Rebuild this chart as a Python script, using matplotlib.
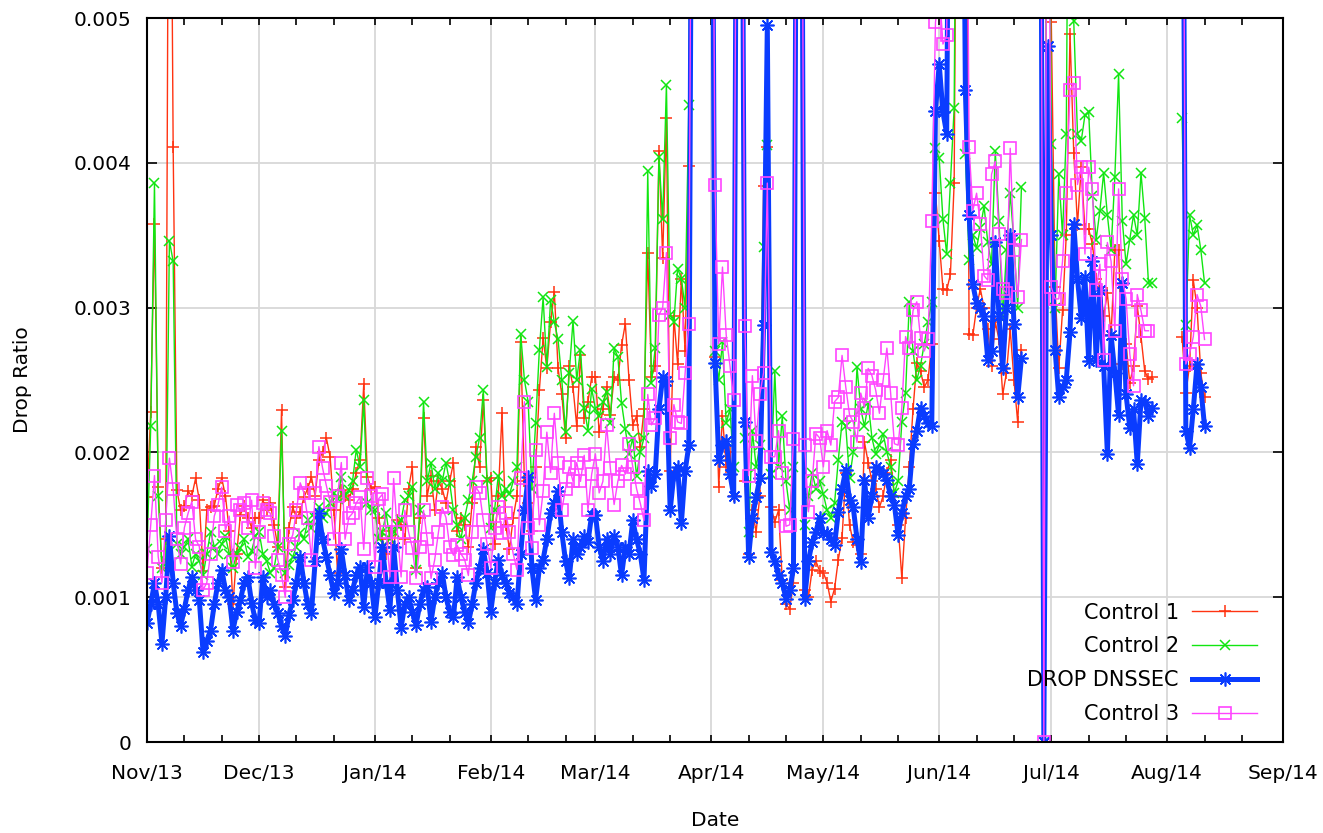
import numpy as np
import matplotlib
matplotlib.use("Agg")
import matplotlib.pyplot as plt
import matplotlib.dates as mdates

# ---------------- data (values in units of 1e-3, one value per day) ----------------
OFF = 8.0      # value above the plotted range (clipped at the top)
NA = np.nan    # missing day

start_date = "2013-11-01"
x_limits = ("2013-11-01", "2014-09-01")
y_ticks = [0.0, 0.001, 0.002, 0.003, 0.004, 0.005]
y_tick_labels = ["0", "0.001", "0.002", "0.003", "0.004", "0.005"]
series_names = ["Control 1", "Control 2", "DROP DNSSEC", "Control 3"]

control1 = [
    # Nov
    1.69, 2.28, 3.58, 1.76, 1.20, 1.40, OFF, 4.11, 1.74, 1.60,
    1.63, 1.73, 1.70, 1.82, 1.67, 1.18, 1.60, 1.62, 1.63, 1.75,
    1.82, 1.70, 1.46, 0.95, 1.30, 1.57, 1.63, 1.55, 1.48, 1.55,
    # Dec
    1.55, 1.67, 1.60, 1.65, 1.50, 1.35, 2.29, 1.07, 1.48, 1.62,
    1.55, 1.59, 1.69, 1.75, 1.83, 1.70, 1.95, 2.00, 2.10, 1.97,
    1.60, 1.17, 1.74, 1.70, 1.67, 1.75, 1.86, 1.95, 2.47, 1.83, 1.75,
    # Jan
    1.76, 1.55, 1.40, 1.30, 1.46, 1.35, 1.53, 1.50, 1.40, 1.75,
    1.90, 1.20, 1.55, 2.24, 1.70, 1.84, 1.60, 1.80, 1.75, 1.65,
    1.80, 1.93, 1.46, 1.55, 1.50, 1.35, 1.65, 2.04, 1.90, 2.36, 1.80,
    # Feb
    1.82, 1.37, 1.70, 2.27, 1.50, 1.33, 1.55, 1.70, 2.76, 1.80,
    1.65, 1.46, 1.90, 2.43, 2.79, 2.58, 2.90, 3.11, 2.58, 2.40,
    2.10, 2.60, 2.45, 2.18, 2.67, 2.24, 2.35, 2.52,
    # Mar
    2.52, 2.14, 2.30, 2.45, 2.26, 2.52, 2.50, 2.74, 2.89, 2.50,
    2.19, 2.25, 2.04, 2.30, 3.38, 2.52, 2.60, 4.08, 3.34, 4.31,
    1.87, 2.94, 2.61, 3.20, 2.70, 3.98, OFF, OFF, OFF, OFF, OFF,
    # Apr
    OFF, 2.66, 1.76, 2.25, 1.90, 2.00, 1.70, OFF, OFF, 1.80,
    1.30, 1.60, 1.45, 1.70, 3.84, 4.11, 1.62, 1.52, 1.60, 1.12,
    0.95, 0.92, 1.10, OFF, OFF, 1.05, 1.00, 1.19, 1.25, 1.18,
    # May
    1.17, 1.10, 0.97, 1.06, 1.26, 1.41, 1.86, 1.50, 1.38, 1.36,
    1.30, 2.07, 1.93, 1.80, 1.75, 1.62, 1.70, 1.86, 1.95, 1.70,
    1.50, 1.13, 1.55, 1.90, 2.30, 2.62, 2.56, 2.45, 2.50, 2.75, 3.79,
    # Jun
    3.46, 3.13, 3.12, 3.23, 3.86, OFF, OFF, OFF, 2.82, 2.81,
    3.00, 3.13, 3.00, 2.85, 2.60, 2.90, 2.78, 2.40, 2.55, 2.85,
    2.50, 2.21, 2.71, NA, NA, NA, NA, OFF, 0.0, OFF,
    # Jul
    4.97, 3.14, 2.58, 2.98, 3.50, 4.89, 4.07, 3.57, 3.97, 3.54,
    3.54, 3.44, 3.20, 3.14, 2.94, 3.10, 2.81, 3.40, 3.40, 2.61,
    2.75, 2.48, 2.60, 3.01, 2.80, 2.56, 2.51, 2.52, NA, NA, NA,
    # Aug
    NA, NA, NA, NA, 2.80, 2.41, 2.60, 3.19, 3.00, 2.55, 2.38,
]

control2 = [
    # Nov
    1.33, 2.18, 3.86, 1.70, 1.20, 1.25, 3.46, 3.32, 1.37, 1.30,
    1.35, 1.40, 1.21, 1.30, 1.25, 1.15, 1.30, 1.45, 1.35, 1.30,
    1.37, 1.42, 1.30, 1.20, 1.30, 1.34, 1.40, 1.28, 1.32, 1.42,
    # Dec
    1.45, 1.30, 1.25, 1.17, 1.20, 1.35, 2.15, 1.17, 1.22, 1.28,
    1.35, 1.44, 1.40, 1.53, 1.48, 1.55, 1.62, 1.55, 1.58, 1.65,
    1.72, 1.68, 1.83, 1.70, 1.74, 1.80, 2.02, 1.90, 2.36, 1.65, 1.60,
    # Jan
    1.60, 1.40, 1.45, 1.58, 1.40, 1.45, 1.50, 1.53, 1.67, 1.70,
    1.76, 1.19, 1.60, 2.35, 1.80, 1.93, 1.75, 1.86, 1.80, 1.93,
    1.79, 1.60, 1.50, 1.40, 1.55, 1.67, 1.80, 1.97, 2.10, 2.43, 1.81,
    # Feb
    1.48, 1.60, 1.84, 1.70, 1.75, 1.71, 1.80, 1.90, 2.82, 2.50,
    2.35, 1.75, 2.20, 2.71, 3.07, 2.59, 3.05, 2.90, 2.78, 2.50,
    2.14, 2.55, 2.91, 2.50, 2.71, 2.31, 2.15, 2.44,
    # Mar
    2.30, 2.25, 2.35, 2.42, 2.20, 2.72, 2.66, 2.34, 2.16, 1.99,
    2.10, 1.84, 2.00, 2.10, 3.94, 2.48, 2.72, 4.04, 3.61, 4.54,
    2.95, 2.90, 3.27, 3.20, 3.00, 4.40, OFF, OFF, OFF, OFF, OFF,
    # Apr
    OFF, 2.70, 2.50, 2.76, 2.20, 2.30, 1.90, OFF, OFF, 2.10,
    1.45, 2.15, 1.90, 2.05, 3.42, 4.12, 1.85, 2.56, 1.90, 2.25,
    1.80, 1.60, 1.90, OFF, OFF, 1.50, 1.70, 1.86, 1.75, 1.80,
    # May
    1.71, 1.60, 1.55, 1.65, 1.95, 2.21, 2.18, 1.82, 2.00, 2.59,
    2.30, 2.18, 2.34, 2.10, 1.99, 2.05, 2.13, 2.00, 1.90, 1.72,
    1.80, 2.21, 2.41, 3.04, 2.70, 2.50, 2.60, 2.75, 2.90, 3.04, 4.10,
    # Jun
    4.03, 3.61, 3.37, 3.86, 4.38, OFF, OFF, 4.06, 3.33, 3.50,
    3.41, 3.55, 3.70, 3.45, 3.30, 4.08, 3.60, 2.92, 3.40, 3.79,
    3.45, 3.00, 3.83, NA, NA, NA, NA, OFF, 0.0, OFF,
    # Jul
    4.13, 3.00, 3.92, 3.50, 4.20, OFF, 4.98, 4.20, 4.15, 4.33,
    4.35, 3.77, 3.47, 3.67, 3.93, 3.64, 3.40, 3.90, 4.61, 3.60,
    3.30, 3.47, 3.64, 3.50, 3.93, 3.62, 3.17, 3.17, NA, NA, NA,
    # Aug
    NA, NA, NA, NA, 4.31, 2.88, 3.64, 3.50, 3.57, 3.40, 3.17,
]

drop_dnssec = [
    # Nov
    0.82, 0.95, 1.10, 0.95, 0.68, 1.00, 1.42, 1.10, 0.89, 0.80,
    0.92, 1.05, 1.14, 1.05, 0.98, 0.62, 0.70, 0.77, 0.95, 1.10,
    1.19, 1.05, 1.00, 0.77, 0.90, 0.98, 1.10, 1.14, 0.96, 0.84,
    # Dec
    0.82, 1.14, 1.00, 1.05, 0.95, 0.89, 0.80, 0.73, 0.88, 0.98,
    1.10, 1.28, 1.10, 0.95, 0.89, 1.25, 1.58, 1.40, 1.28, 1.15,
    1.03, 1.10, 1.33, 1.15, 0.98, 1.05, 1.15, 1.21, 0.93, 1.21, 1.10,
    # Jan
    0.86, 1.10, 1.35, 1.10, 0.91, 1.35, 1.05, 0.79, 0.95, 1.00,
    0.90, 0.81, 0.95, 1.05, 1.07, 0.83, 1.00, 1.10, 1.17, 1.00,
    0.90, 0.86, 1.14, 1.00, 0.90, 0.82, 0.95, 1.10, 1.20, 1.33, 1.17,
    # Feb
    0.90, 1.10, 1.26, 1.15, 1.10, 1.03, 1.00, 0.95, 1.30, 1.60,
    1.83, 1.20, 0.98, 1.20, 1.26, 1.40, 1.58, 1.65, 1.73, 1.45,
    1.25, 1.13, 1.40, 1.30, 1.35, 1.42, 1.38, 1.57,
    # Mar
    1.57, 1.35, 1.25, 1.40, 1.30, 1.42, 1.35, 1.15, 1.35, 1.30,
    1.53, 1.40, 1.30, 1.12, 1.87, 1.77, 1.85, 2.30, 2.52, 2.49,
    1.60, 1.85, 1.90, 1.51, 1.87, 2.05, OFF, OFF, OFF, OFF, OFF,
    # Apr
    OFF, 2.62, 1.95, 2.05, 2.08, 1.85, 1.70, OFF, OFF, 2.21,
    1.28, 1.55, 1.69, 1.82, 2.88, 4.95, 1.31, 1.25, 1.15, 1.10,
    0.99, 1.05, 1.20, OFF, OFF, 0.99, 1.25, 1.38, 1.45, 1.55,
    # May
    1.44, 1.44, 1.40, 1.36, 1.59, 1.75, 1.88, 1.67, 1.62, 1.40,
    1.24, 1.81, 1.55, 1.70, 1.90, 1.88, 1.85, 1.81, 1.70, 1.64,
    1.43, 1.58, 1.70, 1.75, 2.06, 2.15, 2.31, 2.25, 2.20, 2.18, 4.36,
    # Jun
    4.68, 4.35, 4.20, OFF, OFF, OFF, OFF, 4.50, 3.64, 3.16,
    3.03, 3.00, 2.94, 2.64, 2.70, 3.45, 2.94, 2.58, 3.00, 3.50,
    2.89, 2.38, 2.65, NA, NA, NA, NA, OFF, 0.0, 4.81,
    # Jul
    3.50, 2.71, 2.38, 2.45, 2.50, 2.83, 3.58, 3.20, 2.93, 3.21,
    2.63, 3.32, 2.64, 3.12, 2.60, 1.99, 2.81, 2.55, 2.26, 3.17,
    2.40, 2.17, 2.30, 1.92, 2.36, 2.35, 2.25, 2.31, NA, NA, NA,
    # Aug
    NA, NA, NA, NA, OFF, 2.15, 2.03, 2.30, 2.61, 2.45, 2.18,
]

control3 = [
    # Nov
    1.17, 1.50, 1.84, 1.28, 1.10, 1.53, 1.96, 1.75, 1.40, 1.23,
    1.48, 1.58, 1.66, 1.40, 1.35, 1.05, 1.10, 1.30, 1.56, 1.64,
    1.76, 1.46, 1.56, 1.24, 1.64, 1.60, 1.65, 1.48, 1.67, 1.20,
    # Dec
    1.45, 1.65, 1.60, 1.58, 1.42, 1.26, 1.15, 1.00, 1.37, 1.43,
    1.60, 1.79, 1.72, 1.55, 1.26, 1.72, 2.04, 1.89, 1.77, 1.66,
    1.40, 1.70, 1.93, 1.40, 1.55, 1.58, 1.65, 1.69, 1.33, 1.82, 1.70,
    # Jan
    1.21, 1.68, 1.71, 1.45, 1.14, 1.82, 1.45, 1.14, 1.60, 1.45,
    1.34, 1.13, 1.35, 1.60, 1.40, 1.13, 1.26, 1.45, 1.62, 1.55,
    1.35, 1.29, 1.36, 1.30, 1.26, 1.15, 1.45, 1.76, 1.72, 1.53, 1.37,
    # Feb
    1.20, 1.48, 1.62, 1.44, 1.58, 1.45, 1.30, 1.19, 1.82, 2.35,
    1.48, 1.34, 2.02, 1.50, 1.73, 2.14, 1.86, 2.27, 1.93, 1.60,
    1.75, 1.90, 1.80, 1.93, 1.80, 1.98, 1.60, 1.85,
    # Mar
    1.99, 1.72, 1.80, 2.19, 1.89, 1.64, 1.80, 1.91, 1.85, 2.06,
    1.90, 1.75, 1.65, 1.53, 2.40, 2.19, 2.24, 2.95, 3.00, 3.38,
    2.10, 2.33, 2.21, 2.20, 2.55, 2.89, OFF, OFF, OFF, OFF, OFF,
    # Apr
    OFF, 3.85, 2.75, 3.28, 2.81, 2.60, 2.36, OFF, OFF, 2.87,
    1.84, 2.53, 2.08, 2.40, 2.55, 3.86, 1.97, 1.97, 2.15, 1.86,
    1.49, 1.50, 2.09, OFF, OFF, 2.05, 1.59, 1.80, 2.13, 2.10,
    # May
    1.90, 2.15, 2.05, 2.35, 2.38, 2.67, 2.45, 2.26, 2.21, 2.07,
    2.41, 2.31, 2.58, 2.53, 2.43, 2.27, 2.50, 2.72, 2.41, 2.06,
    2.05, 2.31, 2.80, 2.72, 2.98, 3.04, 2.79, 2.70, 2.78, 3.60, 4.97,
    # Jun
    5.20, 4.82, 4.88, OFF, OFF, OFF, OFF, OFF, 4.11, 3.67,
    3.79, 3.58, 3.22, 3.19, 3.92, 4.01, 3.51, 3.13, 3.10, 4.10,
    3.40, 3.07, 3.47, NA, NA, NA, NA, OFF, 0.0, OFF,
    # Jul
    3.14, 3.06, 3.06, 3.32, 3.79, 4.50, 4.55, 3.85, 3.97, 3.37,
    3.97, 3.82, 3.12, 3.30, 2.64, 3.45, 3.32, 2.84, 3.82, 3.20,
    3.06, 2.68, 2.46, 3.09, 2.98, 2.84, 2.84, NA, NA, NA, NA,
    # Aug
    NA, NA, NA, NA, OFF, 2.61, 2.68, 2.80, 3.09, 3.01, 2.78,
]

# ---------------- figure ----------------
W, H = 1323, 833
fig = plt.figure(figsize=(W / 100, H / 100), dpi=100)
ax = fig.add_axes([147 / W, 1 - 742 / H, 1136 / W, 724 / H])

plt.rcParams["font.family"] = ["DejaVu Sans"]

n = len(drop_dnssec)
dates = np.datetime64(start_date) + np.arange(n)

styles = [
    dict(color="#ff3311", marker="+", ms=9, mew=1.1, lw=1.0),
    dict(color="#11e611", marker="x", ms=7, mew=1.1, lw=1.0),
    dict(color="#0a3cff", marker=(8, 2, 0), ms=10, mew=1.2, lw=3.6),
    dict(color="#ff44ff", marker="s", ms=8, mew=1.2, lw=1.0, mfc="none"),
]
for vals, name, st in zip([control1, control2, drop_dnssec, control3], series_names, styles):
    y = np.array(vals, dtype=float) * 1e-3
    ax.plot(dates, y, label=name, **st)

ax.set_xlim(np.datetime64(x_limits[0]), np.datetime64(x_limits[1]))
ax.set_ylim(0, 0.005)
ax.set_yticks(y_ticks)
ax.set_yticklabels(y_tick_labels)

ax.xaxis.set_major_locator(mdates.MonthLocator())
ax.xaxis.set_minor_locator(mdates.DayLocator(bymonthday=[11, 21]))
ax.xaxis.set_major_formatter(mdates.DateFormatter("%b/%y"))

ax.grid(True, which="major", color="#d8d8d8", lw=1.3)
ax.set_axisbelow(True)
for s in ax.spines.values():
    s.set_linewidth(1.5)
    s.set_color("black")

ax.tick_params(axis="x", which="both", direction="in", top=True, bottom=True,
               length=5, width=1.2, labelsize=14.5, pad=16)
ax.tick_params(axis="y", which="both", direction="in", left=True, right=True,
               length=7, width=1.2, labelsize=14.5, pad=11)

ax.set_xlabel("Date", fontsize=14.5)
ax.set_ylabel("Drop Ratio", fontsize=14.5)
ax.xaxis.set_label_coords(0.5, -0.095)
ax.yaxis.set_label_coords(-0.101, 0.5)

leg = ax.legend(loc="lower right", bbox_to_anchor=(0.977, 0.025), frameon=False,
                markerfirst=False, numpoints=1, fontsize=15, handlelength=3.1,
                handletextpad=0.65, labelspacing=0.66, borderaxespad=0, borderpad=0)

fig.savefig("out.png", dpi=100)
